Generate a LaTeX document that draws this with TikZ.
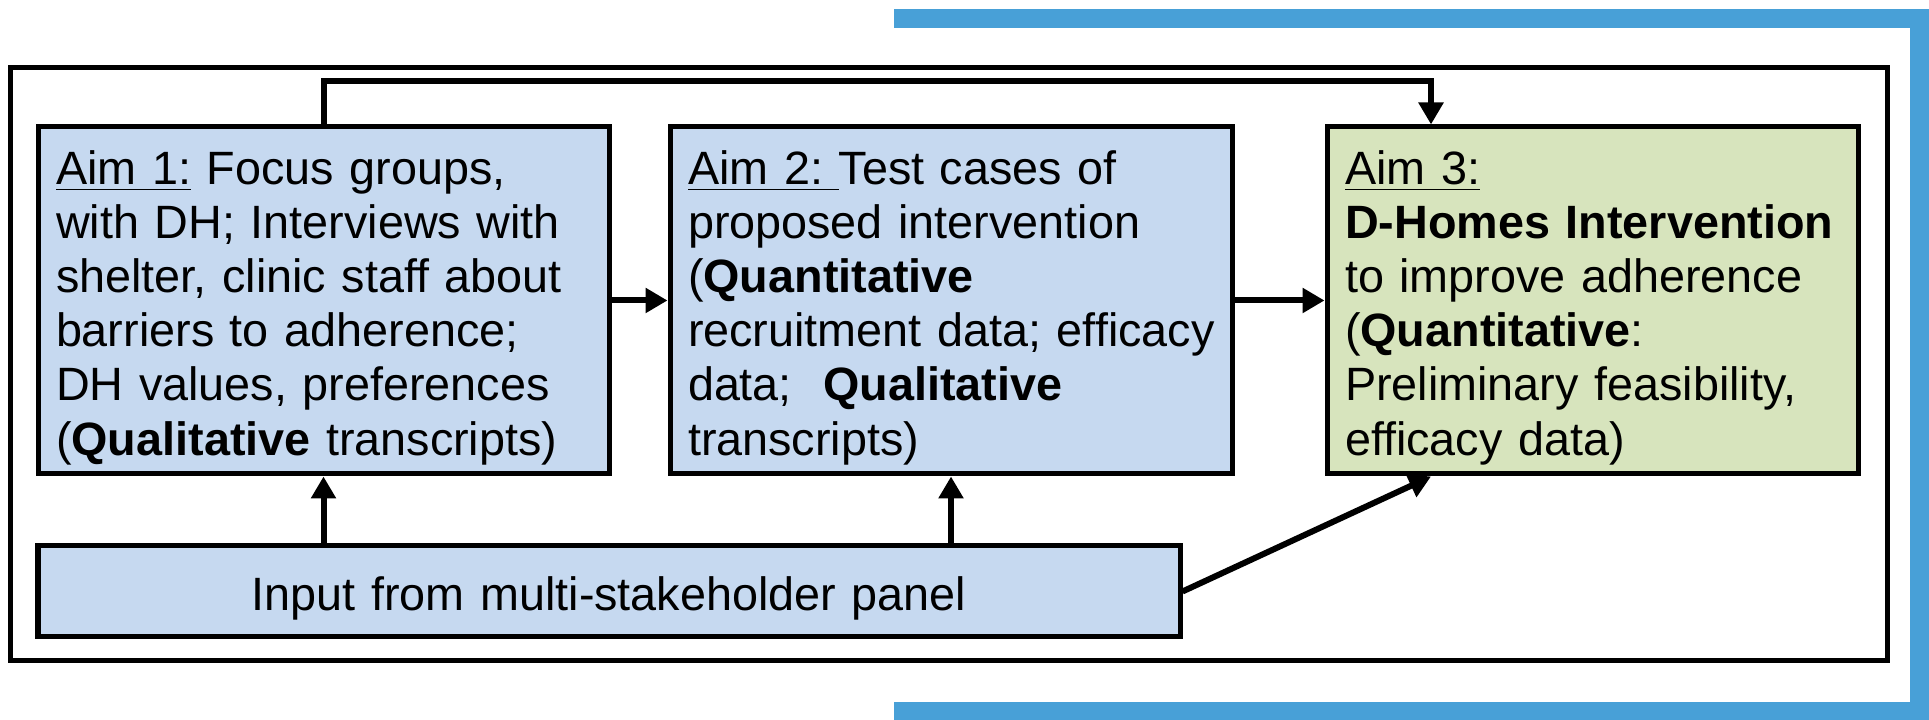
\documentclass[tikz,border=0pt]{standalone}
\usepackage{fontspec}
\setmainfont{Liberation Sans}
\usetikzlibrary{arrows.meta}
\definecolor{bleuclair}{RGB}{198,217,240}
\definecolor{vertclair}{RGB}{215,228,189}
\definecolor{bleucadre}{RGB}{72,160,215}

\begin{document}
\begin{tikzpicture}
		\tikzstyle{fleche}=[-{Triangle[length=0.22cm,width=0.24cm]},line width=0.06cm]
		\tikzstyle{boite}=[draw,line width=0.05cm,fill=bleuclair,inner xsep=0.18cm,inner ysep=0pt,align=left,font=\fontsize{13.3}{15.4}\selectfont,execute at begin node={\rule{0pt}{13.7pt}}]
		\tikzstyle{objectif}=[boite,fill=vertclair]
		\tikzstyle{cadre}=[line width=0.05cm]
		\tikzstyle{accolade}=[line width=0.19cm,color=bleucadre]
		
		\def\NiveauBoites{4.195}
		\def\NiveauPanel{1.285}
		
		\useasboundingbox (0,0) rectangle (19.29,7.20);
		
		% cadres
		\draw[accolade] (8.94,7.015) -- (19.195,7.015) -- (19.195,0.085) -- (8.94,0.085);
		\draw[cadre] (0.10,0.59) rectangle (18.87,6.52);
		
		\node[boite,minimum width=5.71cm,text width=5.35cm,minimum height=3.47cm] (aim1) at (3.235,\NiveauBoites) {\underline{Aim 1:} Focus groups,\\ with DH; Interviews with\\ shelter, clinic staff about\\ barriers to adherence;\\ DH values, preferences\\ (\textbf{Qualitative} transcripts)};
		\node[boite,minimum width=5.62cm,text width=5.26cm,minimum height=3.47cm] (aim2) at (9.51,\NiveauBoites) {\underline{Aim 2:\ }Test cases of\\ proposed intervention\\ (\textbf{Quantitative}\\ \mbox{recruitment data; efficacy}\\ data;\ \ \textbf{Qualitative}\\ transcripts)};
		\node[objectif,minimum width=5.31cm,text width=4.95cm,minimum height=3.47cm] (aim3) at (15.925,\NiveauBoites) {\underline{Aim 3:}\\ \textbf{D-Homes Intervention}\\ to improve adherence\\ (\textbf{Quantitative}:\\ Preliminary feasibility,\\ efficacy data)};
		\node[boite,align=center,minimum width=11.42cm,text width=11.06cm,minimum height=0.91cm] (panel) at (6.09,\NiveauPanel) {Input from multi-stakeholder panel};
		
		\coordinate (coude) at (14.31,6.39);
		
		\draw[fleche] (aim1.north) |- (coude) -- (coude |- aim3.north);
		\draw[fleche] (aim1) -- (aim2);
		\draw[fleche] (aim2) -- (aim3);
		\draw[fleche] (aim1.south |- panel.north) -- (aim1.south);
		\draw[fleche] (aim2.south |- panel.north) -- (aim2.south);
		\draw[fleche] (panel.east) -- (coude |- aim3.south);
		\end{tikzpicture}
\end{document}
